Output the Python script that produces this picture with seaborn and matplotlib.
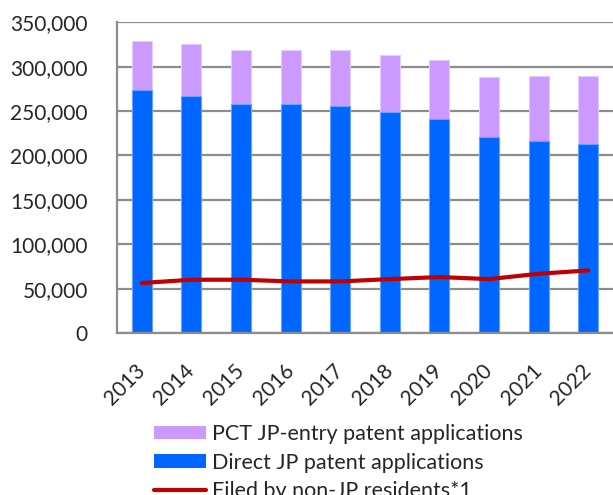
import numpy as np
import pandas as pd
import matplotlib
matplotlib.use("Agg")
import matplotlib.pyplot as plt
import matplotlib.ticker as mticker
import seaborn as sns

years = ["2013", "2014", "2015", "2016", "2017", "2018", "2019", "2020", "2021", "2022"]
direct_jp = [274000, 267000, 258000, 258000, 255800, 249400, 241200, 220900, 216400, 213000]
total_apps = [328400, 326000, 318700, 318400, 318500, 313600, 308000, 288500, 289200, 289500]
non_jp = [56300, 60000, 60000, 58100, 58100, 60700, 63000, 60700, 66700, 70500]

df = pd.DataFrame({"year": years, "direct": direct_jp, "total": total_apps, "nonjp": non_jp})

sns.set_style("white")
plt.rcParams["font.family"] = ["Lato", "DejaVu Sans"]

fig = plt.figure(figsize=(6.13, 4.95), dpi=100)
ax = fig.add_axes([0.1909, 0.3273, 0.8091, 0.6276])

grid_c = "#8c8c8c"
ax.set_axisbelow(True)
ax.yaxis.grid(True, color=grid_c, linewidth=1.6)

sns.barplot(data=df, x="year", y="total", color="#CC99FF", width=0.4,
            edgecolor="#e2ccff", linewidth=0.8, saturation=1, ax=ax)
sns.barplot(data=df, x="year", y="direct", color="#0066FF", width=0.4,
            edgecolor="#66a3ff", linewidth=0.8, saturation=1, ax=ax)
sns.lineplot(x=np.arange(len(years)), y=df["nonjp"], color="#C00000",
             linewidth=3, ax=ax)

ax.set_xlim(-0.5, len(years) - 0.5)
ax.set_ylim(0, 350000)
ax.yaxis.set_major_locator(mticker.MultipleLocator(50000))
ax.yaxis.set_major_formatter(mticker.FuncFormatter(lambda v, p: f"{int(v):,}"))
ax.set_xlabel("")
ax.set_ylabel("")

for s in ["top", "right"]:
    ax.spines[s].set_visible(False)
for s in ["left", "bottom"]:
    ax.spines[s].set_color(grid_c)
    ax.spines[s].set_linewidth(1.6)

ax.tick_params(axis="y", length=7, width=1.6, color=grid_c, labelsize=15, pad=14)
ax.tick_params(axis="x", which="major", length=0, labelsize=15, pad=25)
ax.set_xticks(np.arange(len(years) + 1) - 0.5, minor=True)
ax.tick_params(axis="x", which="minor", length=7, width=1.6, color=grid_c)
for lbl in ax.get_xticklabels():
    lbl.set_rotation(45)
    lbl.set_ha("right")
    lbl.set_va("center")
    lbl.set_rotation_mode("anchor")

handles = [
    plt.Rectangle((0, 0), 1, 1, facecolor="#CC99FF", edgecolor="none"),
    plt.Rectangle((0, 0), 1, 1, facecolor="#0066FF", edgecolor="none"),
    plt.Line2D([0], [0], color="#C00000", linewidth=3),
]
labels = ["PCT JP-entry patent applications", "Direct JP patent applications",
          "Filed by non-JP residents*1"]
fig.legend(handles, labels, loc="upper left", bbox_to_anchor=(0.251, 0.1434),
           frameon=False, fontsize=15.5, borderpad=0, borderaxespad=0,
           handlelength=2.42, handleheight=0.6, handletextpad=0.28,
           labelspacing=0.4)

fig.savefig("out.png", dpi=100)
